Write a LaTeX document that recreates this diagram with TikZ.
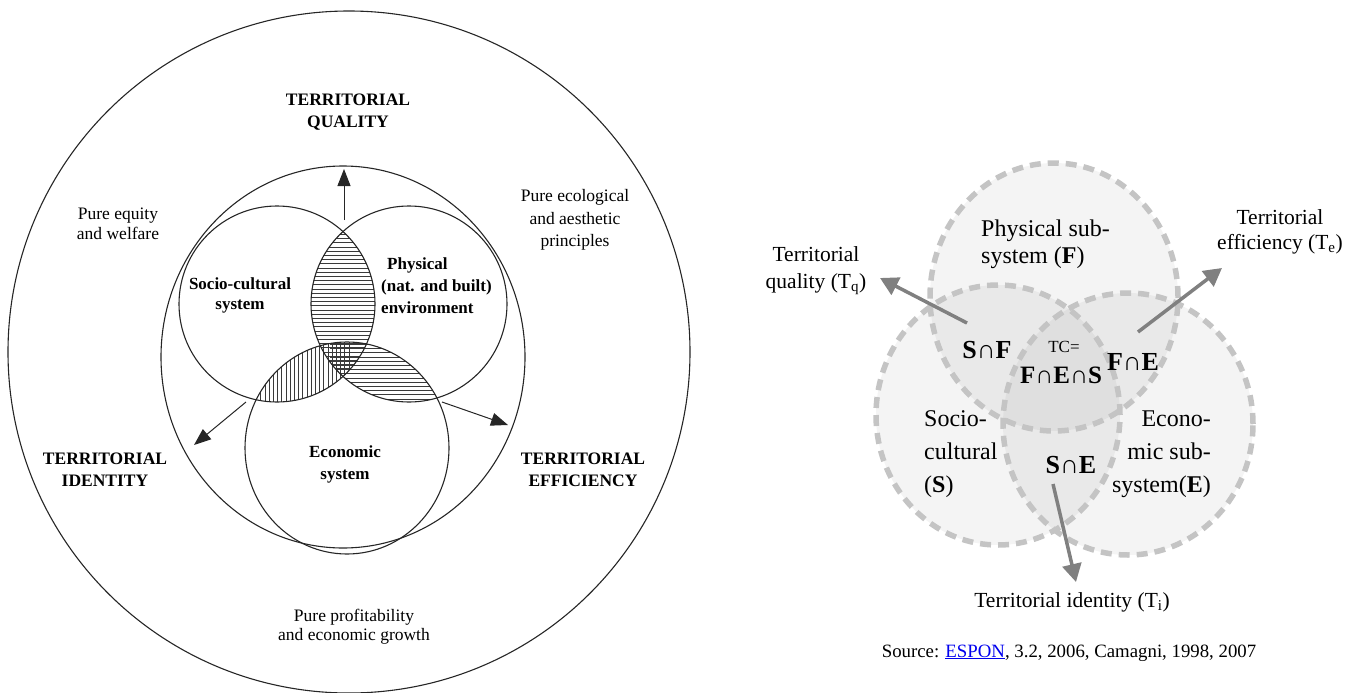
\documentclass[tikz,border=0pt]{standalone}
\usepackage{fontspec}
\setmainfont{Liberation Serif}
\usetikzlibrary{arrows.meta}
\definecolor{ink}{HTML}{262626}
\definecolor{hatchink}{HTML}{3a3a3a}
\definecolor{dashgray}{HTML}{C4C4C4}
\definecolor{arrowgray}{HTML}{808080}
\definecolor{linkblue}{HTML}{0000EE}

\begin{document}
\begin{tikzpicture}[x=1pt,y=-1pt,
  ring/.style={draw=ink,line width=1.1pt},
  hatch/.style={draw=hatchink,line width=0.7pt},
  blackarrow/.style={draw=ink,line width=1pt,-{Triangle[length=17pt,width=13pt]}},
  plainlbl/.style={font=\fontsize{17.5}{20}\selectfont,align=center,inner sep=0pt},
  boldlbl/.style={font=\fontsize{17.5}{22}\bfseries\selectfont,align=center,inner sep=0pt},
  venn/.style={fill=black,fill opacity=0.045},
  vennrim/.style={draw=dashgray,line width=5.5pt,dash pattern=on 11pt off 7pt},
  greyarrow/.style={draw=arrowgray,line width=3.5pt,-{Triangle[length=18pt,width=19pt]}},
  outerlbl/.style={font=\fontsize{21.5}{27}\selectfont,align=center,inner sep=0pt},
  innerlbl/.style={font=\fontsize{24}{33}\selectfont,inner sep=0pt},
  setlbl/.style={font=\fontsize{26}{30}\selectfont,inner sep=0pt,anchor=base},
]
\useasboundingbox (0,0) rectangle (1358,693);

% ---------- left: territorial cohesion as three overlapping systems ----------
% hatched overlaps (drawn first, outlines go on top)
\begin{scope}
  \clip (277,304) circle[radius=98pt];
  \clip (409,304) circle[radius=98pt];
  \foreach \yy in {226,230.2,...,384} \draw[hatch] (300,\yy) -- (390,\yy);
\end{scope}
\begin{scope}
  \clip (409,304) circle[radius=98pt];
  \clip (347,448) ellipse[x radius=102pt,y radius=106pt];
  \foreach \yy in {336,340.2,...,410} \draw[hatch] (330,\yy) -- (460,\yy);
\end{scope}
\begin{scope}
  \clip (277,304) circle[radius=98pt];
  \clip (347,448) ellipse[x radius=102pt,y radius=106pt];
  \foreach \xx in {244,248.2,...,350} \draw[hatch] (\xx,330) -- (\xx,410);
\end{scope}

% circles
\draw[ring] (349,352) circle[radius=341pt];
\draw[ring] (343,357) ellipse[x radius=182pt,y radius=191pt];
\draw[ring] (277,304) circle[radius=98pt];
\draw[ring] (409,304) circle[radius=98pt];
\draw[ring] (347,448) ellipse[x radius=102pt,y radius=106pt];

% arrows out of the overlaps
\coordinate (qfrom) at (344,220);
\coordinate (qto)   at (344,169);
\coordinate (ifrom) at (246,402);
\coordinate (ito)   at (194,445);
\coordinate (efrom) at (442,402);
\coordinate (eto)   at (508,425);
\draw[blackarrow] (qfrom) -- (qto);
\draw[blackarrow] (ifrom) -- (ito);
\draw[blackarrow] (efrom) -- (eto);

% labels
\node[boldlbl] (tq)  at (348,112.3) {TERRITORIAL\\QUALITY};
\node[boldlbl] (tid) at (105,469.6) {TERRITORIAL\\IDENTITY};
\node[boldlbl] (tef) at (583,469.6) {TERRITORIAL\\EFFICIENCY};
\node[plainlbl] (equity) at (118,223.6) {Pure equity\\and welfare};
\node[plainlbl,font=\fontsize{17.5}{22.5}\selectfont] (ecol) at (575,220) {Pure ecological\\and aesthetic\\principles};
\node[plainlbl,font=\fontsize{17.5}{18.5}\selectfont] (profit) at (354,626.6) {Pure profitability\\and economic growth};
\node[boldlbl,font=\fontsize{17}{20}\bfseries\selectfont] (socsys) at (240,295.6) {Socio-cultural\\system};
\node[boldlbl,font=\fontsize{17}{22}\bfseries\selectfont,align=left,anchor=west] (physys) at (381,285.6) {\hspace{6pt}Physical\\(nat. and built)\\environment};
\node[boldlbl,font=\fontsize{17}{22}\bfseries\selectfont] (ecosys) at (345,464.6) {Economic\\system};

% ---------- right: the same model as dashed set diagram ----------
\fill[venn] (1054,297) ellipse[x radius=124pt,y radius=134pt];
\fill[venn] (998,415) ellipse[x radius=122pt,y radius=130pt];
\fill[venn] (1128,424) ellipse[x radius=125pt,y radius=131pt];
\draw[vennrim] (1054,297) ellipse[x radius=124pt,y radius=134pt];
\draw[vennrim] (998,415) ellipse[x radius=122pt,y radius=130pt];
\draw[vennrim] (1128,424) ellipse[x radius=125pt,y radius=131pt];

\coordinate (tqfrom) at (967,323);
\coordinate (tqto)   at (880,278);
\coordinate (tefrom) at (1138,332);
\coordinate (teto)   at (1222,268);
\coordinate (tifrom) at (1053,484);
\coordinate (tito)   at (1076,582);
\draw[greyarrow] (tqfrom) -- (tqto);
\draw[greyarrow] (tefrom) -- (teto);
\draw[greyarrow] (tifrom) -- (tito);

\node[outerlbl] (tql) at (816,271) {Territorial\\quality (T\textsubscript{q})};
\node[outerlbl,font=\fontsize{21.5}{25}\selectfont] (tel) at (1280,232) {Territorial\\efficiency (T\textsubscript{e})};
\node[outerlbl,anchor=base] (til) at (1072,607) {Territorial identity (T\textsubscript{i})};

\node[innerlbl,font=\fontsize{24}{27}\selectfont,align=left,anchor=west] (fsys) at (981,244) {Physical sub-\\system (\textbf{F})};
\node[innerlbl,align=left,anchor=west] (ssys) at (924,454) {Socio-\\cultural\\(\textbf{S})};
\node[innerlbl,align=right,anchor=east] (esys) at (1211,454) {Econo-\\mic sub-\\system(\textbf{E})};

\node[setlbl] (sf) at (987,358) {\textbf{S}∩\textbf{F}};
\node[setlbl,font=\fontsize{17}{19}\selectfont] (tc) at (1064,352) {TC=};
\node[setlbl,font=\fontsize{25}{28}\selectfont] (fes) at (1061,383) {\textbf{F}∩\textbf{E}∩\textbf{S}};
\node[setlbl] (fe) at (1133,370) {\textbf{F}∩\textbf{E}};
\node[setlbl] (se) at (1071,473) {\textbf{S}∩\textbf{E}};

\node[font=\fontsize{18.8}{22}\selectfont,anchor=base,inner sep=0pt] (src) at (1069,657)
  {Source: {\color{linkblue}\underline{ESPON}}, 3.2, 2006, Camagni, 1998, 2007};
\end{tikzpicture}
\end{document}
